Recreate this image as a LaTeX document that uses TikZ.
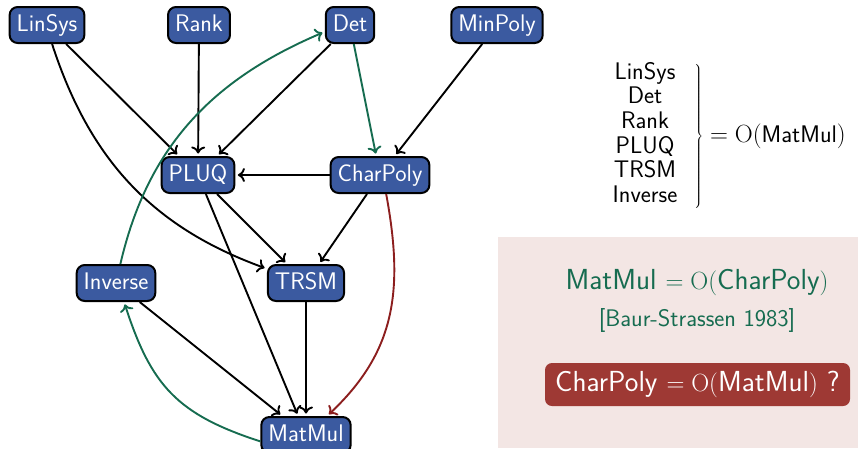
\documentclass[tikz,border=0pt]{standalone}
\usetikzlibrary{arrows.meta}
\definecolor{nodeblue}{RGB}{59,90,160}
\definecolor{reduxgreen}{RGB}{22,108,80}
\definecolor{openred}{RGB}{140,30,30}
\definecolor{boxred}{RGB}{158,57,52}
\definecolor{panelpink}{RGB}{243,230,228}
\begin{document}
\begin{tikzpicture}[x=1pt,y=1pt,
  every node/.style={font=\sffamily\fontsize{24}{24.7}\selectfont},
  algo/.style={draw=black, line width=2pt, fill=nodeblue, text=white,
    rounded corners=8pt, minimum height=36pt, inner xsep=7pt, inner ysep=0pt,
    text height=16.5pt, text depth=4.5pt},
  link/.style={line width=1.9pt, -{To[length=7pt,width=14pt]}, shorten >=2.5pt},
  biglabel/.style={font=\sffamily\fontsize{29}{32}\selectfont},
]
\useasboundingbox (0,0) rectangle (858,-448);

% panel behind the complexity statements
\fill[panelpink] (498,-237) rectangle (858,-448);

% problems
\node[algo] (LinSys)   at (47,-25)   {LinSys};
\node[algo] (Rank)     at (199,-25)  {Rank};
\node[algo] (Det)      at (350,-25)  {Det};
\node[algo] (MinPoly)  at (497,-25)  {MinPoly};
\node[algo] (PLUQ)     at (198,-175) {PLUQ};
\node[algo] (CharPoly) at (380,-175) {CharPoly};
\node[algo] (Inverse)  at (116,-283) {Inverse};
\node[algo] (TRSM)     at (306,-283) {TRSM};
\node[algo] (MatMul)   at (306,-435) {MatMul};

% reductions
\draw[link] (LinSys) -- (PLUQ);
\draw[link] (LinSys.-75) to[out=-72,in=160] (TRSM.160);
\draw[link] (Rank) -- (PLUQ);
\draw[link] (Det) -- (PLUQ);
\draw[link,reduxgreen] (Det) -- (CharPoly);
\draw[link] (MinPoly) -- (CharPoly);
\draw[link] (CharPoly) -- (PLUQ);
\draw[link] (PLUQ) -- (TRSM);
\draw[link] (PLUQ) -- (MatMul);
\draw[link] (CharPoly) -- (TRSM);
\draw[link,openred] (CharPoly.-72) .. controls +(18,-97) and +(68,64) .. (MatMul.42);
\draw[link] (TRSM) -- (MatMul);
\draw[link] (Inverse) -- (MatMul);
\draw[link,reduxgreen] (MatMul.188) to[out=162,in=-72,looseness=1.15] (Inverse.-67);
\draw[link,reduxgreen] (Inverse.77) to[out=77,in=203] (Det.195);

% statements
\node[anchor=west] (summary) at (608,-136)
  {$\left.\begin{tabular}{@{}c@{}}LinSys\\Det\\Rank\\PLUQ\\TRSM\\Inverse\end{tabular}\hspace{17pt}\right\}
   =\mathrm{O}(\mbox{MatMul})$};
\node[biglabel, text=reduxgreen] (known) at (697,-283) {MatMul $=\mathrm{O}($CharPoly$)$};
\node[text=reduxgreen] (cite) at (697,-320) {[Baur-Strassen 1983]};
\node[biglabel, fill=boxred, text=white, rounded corners=7pt,
  minimum width=305pt, minimum height=43pt, inner sep=0pt] (open) at (697.5,-384.5)
  {CharPoly $=\mathrm{O}($MatMul$)$ ?};
\end{tikzpicture}
\end{document}
